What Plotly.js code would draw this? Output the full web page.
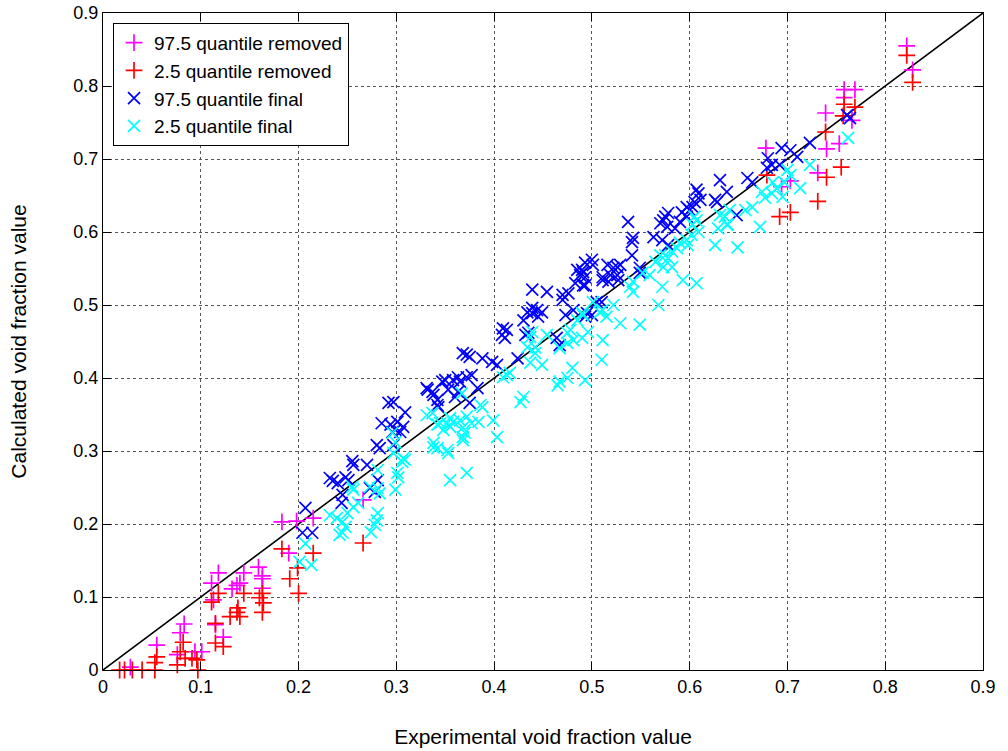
<!DOCTYPE html>
<html>
<head>
<meta charset="utf-8">
<script src="https://cdn.plot.ly/plotly-3.0.1.min.js"></script>
<style>html,body{margin:0;padding:0;background:#fff;}#chart{width:1008px;height:751px;}</style>
</head>
<body>
<div id="chart"></div>
<script>
// 97.5 quantile removed (magenta +)
const q975RemovedX = [0.028,0.055,0.079,0.083,0.076,0.094,0.101,0.111,0.118,0.113,0.115,0.123,0.132,0.137,0.140,0.144,0.159,0.163,0.163,0.163,0.190,0.183,0.198,0.215,0.266,
  0.822,0.828,0.758,0.769,0.758,0.739,0.766,0.678,0.753,0.740,0.731,0.703,0.694];
const q975RemovedY = [0.004,0.034,0.051,0.063,0.021,0.025,0.025,0.119,0.133,0.096,0.062,0.045,0.111,0.116,0.119,0.133,0.141,0.129,0.125,0.112,0.160,0.203,0.204,0.208,0.233,
  0.855,0.822,0.795,0.795,0.784,0.763,0.753,0.715,0.721,0.714,0.681,0.670,0.662];

// 2.5 quantile removed (red +)
const q025RemovedX = [0.017,0.022,0.030,0.040,0.053,0.055,0.053,0.076,0.079,0.082,0.084,0.091,0.096,0.097,0.111,0.118,0.115,0.115,0.123,0.130,0.137,0.140,0.138,0.144,0.160,0.163,0.164,0.163,0.191,0.199,0.200,0.183,0.215,0.266,
  0.822,0.828,0.758,0.769,0.757,0.739,0.755,0.740,0.731,0.679,0.703,0.692];
const q025RemovedY = [0.000,0.000,0.000,0.000,0.000,0.018,0.010,0.007,0.025,0.038,0.016,0.016,0.014,0.000,0.093,0.105,0.064,0.037,0.032,0.073,0.079,0.073,0.085,0.105,0.099,0.105,0.092,0.079,0.125,0.140,0.105,0.166,0.160,0.174,
  0.842,0.805,0.775,0.771,0.759,0.737,0.689,0.675,0.642,0.678,0.627,0.621];

// 97.5 quantile final (blue x)
const q975FinalX = [0.207,0.204,0.214,0.232,0.235,0.240,0.248,0.251,0.256,0.255,0.245,0.244,
  0.270,0.280,0.283,0.281,0.273,0.278,0.285,0.292,0.297,0.294,0.301,0.299,0.304,0.309,0.307,0.297,0.296,
  0.332,0.337,0.342,0.338,0.343,0.347,0.350,0.353,0.358,0.365,0.368,0.372,0.375,0.388,0.372,0.377,0.363,0.360,0.375,0.383,0.342,0.331,0.363,
  0.398,0.403,0.424,0.409,0.413,0.408,0.411,0.430,0.432,0.434,0.439,0.439,0.444,0.449,0.439,0.454,0.470,0.476,0.470,0.473,0.464,0.467,
  0.485,0.490,0.488,0.493,0.500,0.501,0.483,0.493,0.495,0.500,0.511,0.519,0.526,0.541,0.549,0.510,0.505,0.481,0.493,0.445,0.435,0.493,0.491,0.516,0.522,0.529,0.526,0.511,0.517,0.527,0.491,
  0.537,0.542,0.541,0.563,0.570,0.573,0.575,0.578,0.577,0.585,0.572,0.578,0.592,0.597,0.600,0.605,0.611,0.607,0.609,0.628,0.631,0.638,0.648,0.597,0.590,0.659,0.664,0.626,0.603,0.549,
  0.761,0.764,0.723,0.710,0.703,0.694,0.680,0.684,0.679,0.692];
const q975FinalY = [0.222,0.188,0.188,0.263,0.259,0.256,0.264,0.260,0.281,0.286,0.240,0.229,
  0.281,0.308,0.304,0.260,0.249,0.244,0.338,0.366,0.367,0.336,0.340,0.329,0.326,0.353,0.333,0.308,0.326,
  0.384,0.381,0.370,0.377,0.360,0.395,0.397,0.384,0.397,0.395,0.434,0.432,0.429,0.427,0.401,0.404,0.381,0.374,0.366,0.386,0.363,0.386,0.401,
  0.422,0.418,0.427,0.468,0.466,0.459,0.455,0.479,0.459,0.490,0.489,0.496,0.493,0.490,0.521,0.518,0.514,0.516,0.507,0.486,0.455,0.445,
  0.548,0.548,0.541,0.538,0.562,0.555,0.530,0.527,0.489,0.486,0.534,0.541,0.552,0.568,0.551,0.504,0.504,0.493,0.484,0.484,0.462,0.558,0.545,0.555,0.551,0.555,0.541,0.538,0.532,0.534,0.527,
  0.614,0.592,0.586,0.593,0.612,0.616,0.621,0.626,0.607,0.605,0.589,0.582,0.627,0.634,0.630,0.641,0.644,0.658,0.653,0.641,0.671,0.655,0.623,0.621,0.614,0.674,0.668,0.644,0.634,0.544,
  0.760,0.756,0.722,0.703,0.712,0.715,0.701,0.692,0.688,0.692];

// 2.5 quantile final (cyan x)
const q025FinalX = [0.201,0.213,0.207,0.232,0.239,0.245,0.248,0.245,0.242,0.256,0.261,0.255,0.250,0.256,
  0.273,0.281,0.280,0.281,0.278,0.274,0.281,0.283,0.297,0.307,0.306,0.301,0.299,0.302,0.296,0.299,0.309,
  0.331,0.337,0.342,0.345,0.352,0.355,0.358,0.365,0.368,0.372,0.368,0.368,0.353,0.338,0.342,0.352,0.355,0.372,0.377,0.384,0.388,0.370,0.355,0.348,0.338,0.367,
  0.386,0.399,0.403,0.413,0.416,0.427,0.430,0.434,0.439,0.442,0.449,0.454,0.409,0.437,0.437,0.465,0.467,0.475,0.480,0.467,0.475,0.442,
  0.493,0.475,0.478,0.481,0.490,0.496,0.490,0.501,0.508,0.515,0.522,0.529,0.511,0.510,0.539,0.542,0.549,0.552,0.511,0.491,0.485,0.542,0.572,0.568,0.559,0.565,0.573,0.582,0.570,0.575,0.578,
  0.607,0.603,0.609,0.602,0.597,0.590,0.598,0.587,0.582,0.593,0.607,0.626,0.631,0.638,0.649,0.672,0.762,0.723,0.713,0.703,0.697,0.700,0.685,0.689,0.684,0.695,0.674,0.677,0.664,0.657,0.641,0.636,0.639,0.629,0.605];
const q025FinalY = [0.148,0.144,0.173,0.212,0.208,0.203,0.196,0.188,0.185,0.223,0.229,0.251,0.215,0.247,
  0.251,0.274,0.205,0.215,0.199,0.189,0.249,0.242,0.297,0.290,0.285,0.270,0.247,0.264,0.325,0.312,0.288,
  0.349,0.352,0.336,0.338,0.338,0.345,0.340,0.342,0.332,0.347,0.319,0.315,0.297,0.305,0.304,0.301,0.260,0.270,0.338,0.340,0.360,0.325,0.333,0.329,0.311,0.379,
  0.363,0.342,0.319,0.404,0.407,0.367,0.374,0.442,0.463,0.434,0.418,0.459,0.401,0.456,0.421,0.390,0.395,0.400,0.414,0.441,0.448,0.442,
  0.397,0.462,0.466,0.452,0.455,0.463,0.489,0.504,0.490,0.484,0.500,0.475,0.452,0.425,0.525,0.532,0.473,0.544,0.493,0.486,0.479,0.518,0.525,0.500,0.541,0.559,0.552,0.552,0.568,0.568,0.564,
  0.616,0.610,0.600,0.596,0.589,0.585,0.582,0.578,0.573,0.534,0.530,0.582,0.623,0.610,0.579,0.607,0.729,0.692,0.660,0.678,0.668,0.685,0.668,0.660,0.653,0.648,0.655,0.647,0.634,0.630,0.630,0.621,0.610,0.605,0.621];

// reference line y = x
const diagX = [0, 0.9];
const diagY = [0, 0.9];

const seriesNames = ['97.5 quantile removed', '2.5 quantile removed', '97.5 quantile final', '2.5 quantile final'];
const tickVals = [0,0.1,0.2,0.3,0.4,0.5,0.6,0.7,0.8,0.9];
const tickText = ['0','0.1','0.2','0.3','0.4','0.5','0.6','0.7','0.8','0.9'];

const FONT = 'Liberation Sans, Arial, Helvetica, sans-serif';

function mk(x, y, name, color, symbol) {
  return {
    type: 'scatter', mode: 'markers', x: x, y: y, name: name,
    marker: {symbol: symbol, size: 12, color: color, line: {color: color, width: 1.7}},
    cliponaxis: false
  };
}

const traces = [
  {type: 'scatter', mode: 'lines', x: diagX, y: diagY, showlegend: false, hoverinfo: 'skip',
   line: {color: '#000', width: 1.6}},
  mk(q975RemovedX, q975RemovedY, seriesNames[0], '#ff00ff', 'cross-thin'),
  mk(q025RemovedX, q025RemovedY, seriesNames[1], '#ff0000', 'cross-thin'),
  mk(q975FinalX, q975FinalY, seriesNames[2], '#0000ff', 'x-thin'),
  mk(q025FinalX, q025FinalY, seriesNames[3], '#00ffff', 'x-thin')
];

const axisCommon = {
  range: [0, 0.9], tickvals: tickVals, ticktext: tickText,
  ticks: 'inside', ticklen: 8, tickwidth: 1, tickcolor: '#000',
  showline: true, linecolor: '#000', linewidth: 1, mirror: 'allticks',
  showgrid: true, gridcolor: '#555', griddash: 'dot', gridwidth: 1,
  zeroline: false, tickfont: {family: FONT, size: 18, color: '#000'}
};

const layout = {
  width: 1008, height: 751,
  margin: {l: 103, r: 25, t: 13, b: 81},
  paper_bgcolor: '#fff', plot_bgcolor: '#fff',
  font: {family: FONT, color: '#000'},
  showlegend: true,
  legend: {
    x: 0.0114, y: 0.985, xanchor: 'left', yanchor: 'top',
    bgcolor: '#fff', bordercolor: '#000', borderwidth: 1,
    font: {family: FONT, size: 19, color: '#000'},
    tracegroupgap: 0, itemwidth: 30
  },
  xaxis: Object.assign({}, axisCommon, {
    title: {text: 'Experimental void fraction value', font: {family: FONT, size: 21, color: '#000'}, standoff: 33}
  }),
  yaxis: Object.assign({}, axisCommon, {
    title: {text: 'Calculated void fraction value', font: {family: FONT, size: 21, color: '#000'}, standoff: 41}
  })
};

Plotly.newPlot('chart', traces, layout, {displayModeBar: false, staticPlot: true});
</script>
</body>
</html>
